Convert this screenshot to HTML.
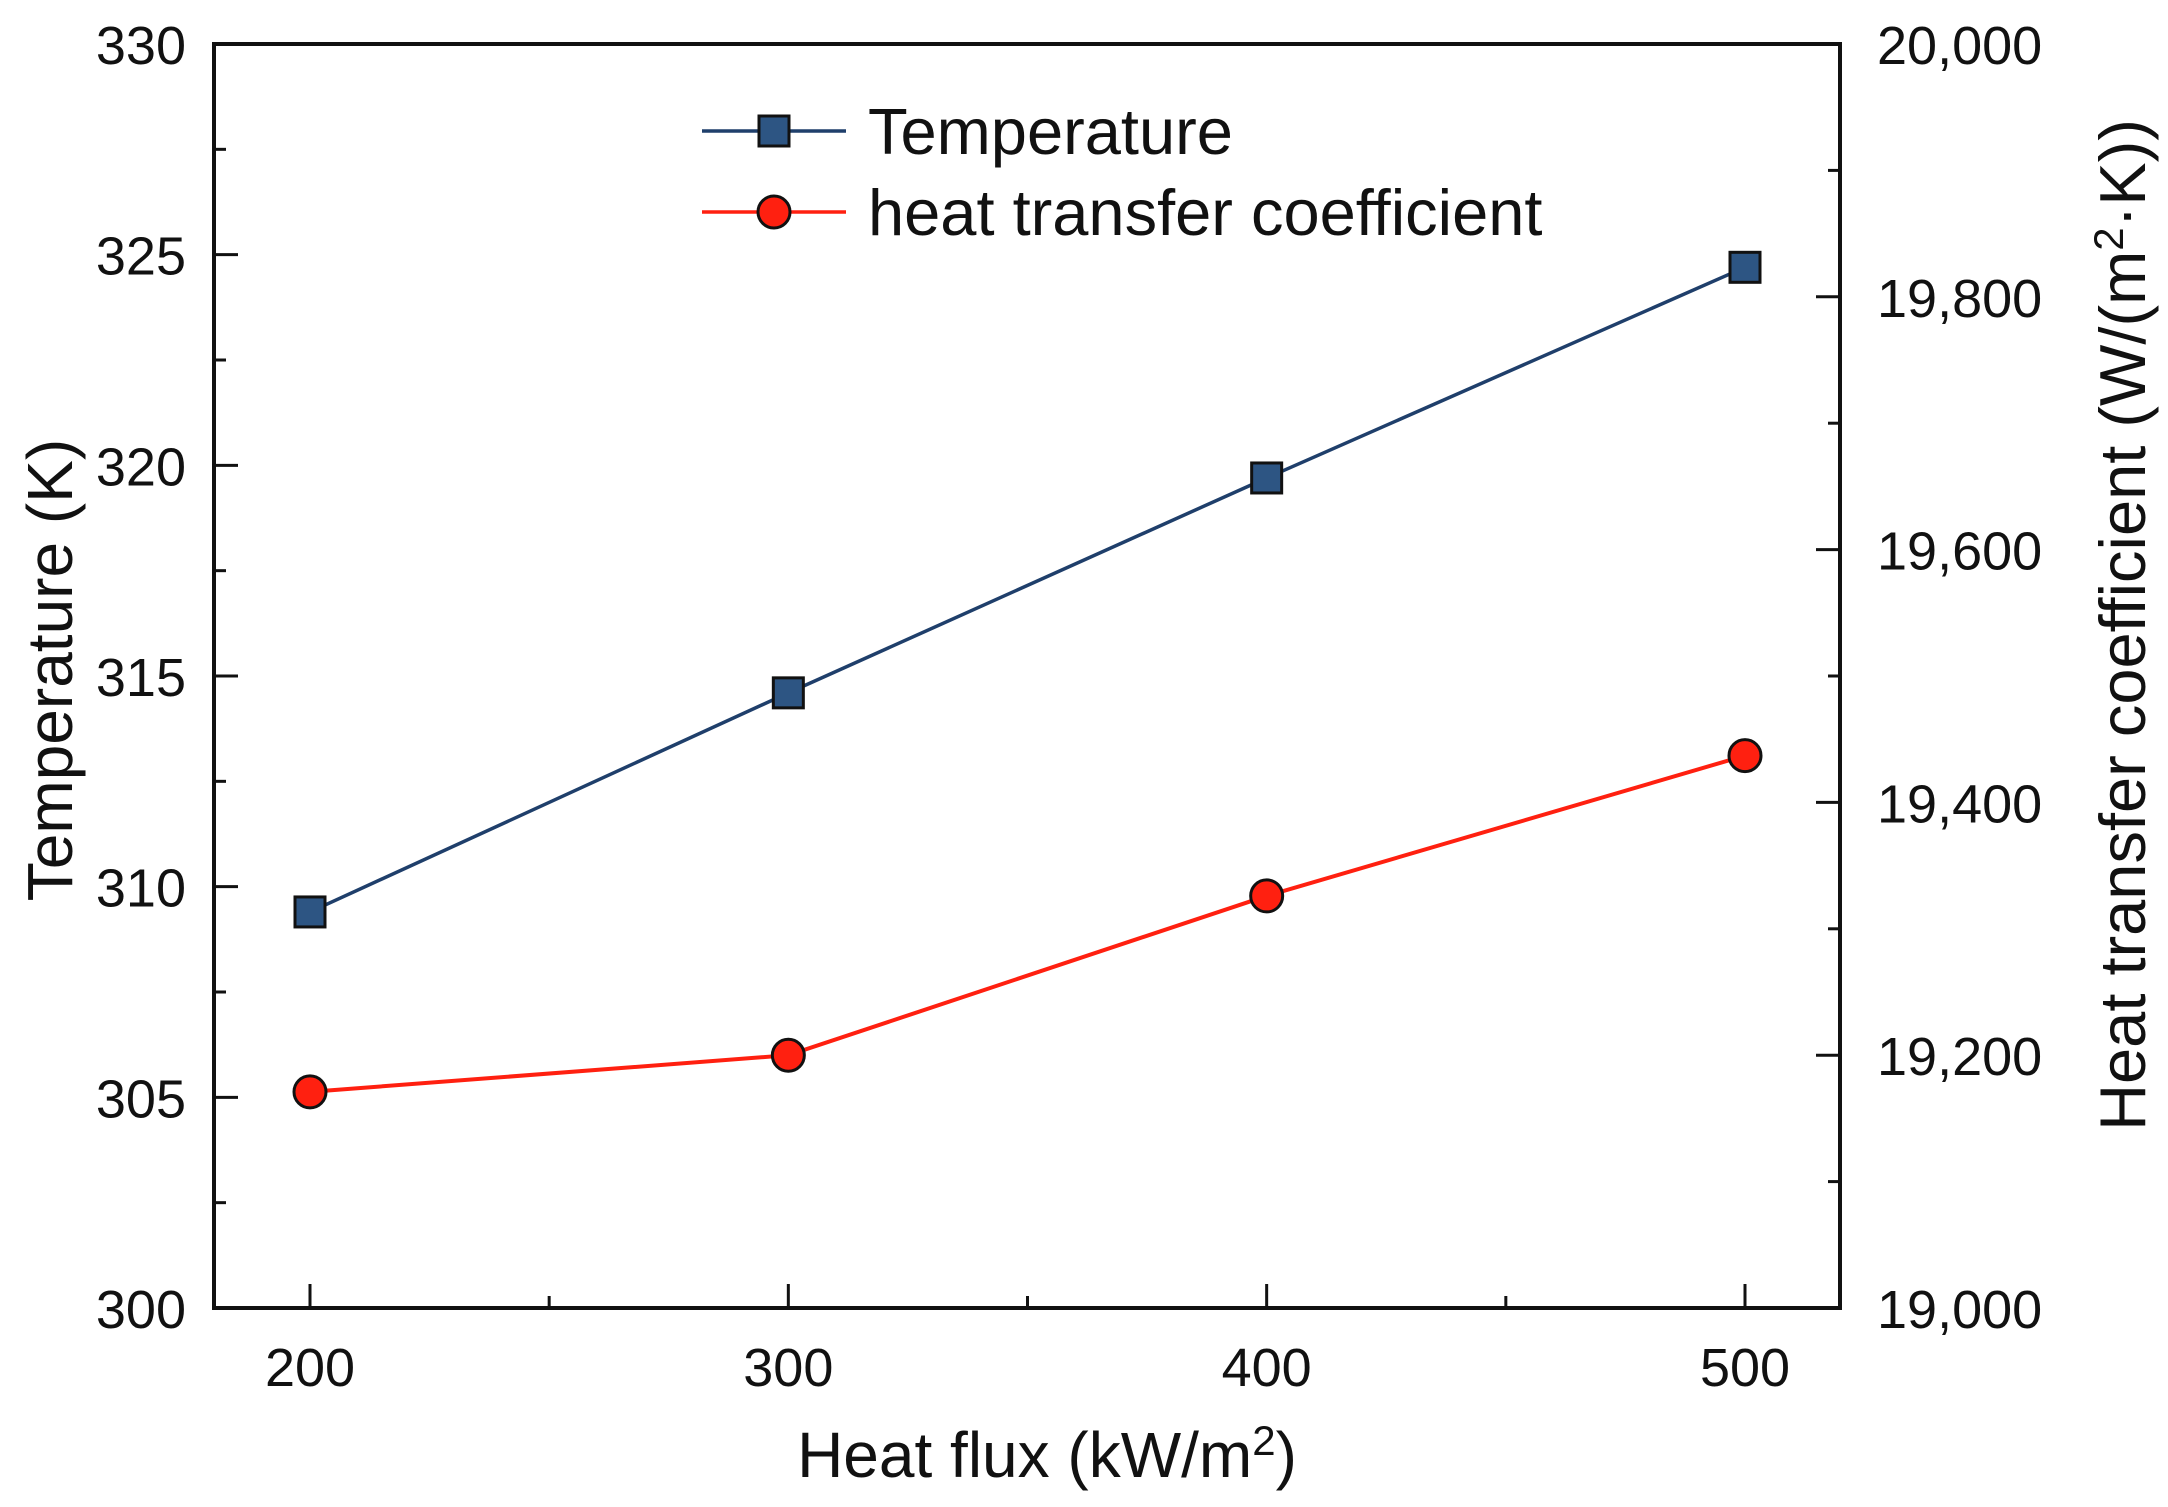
<!DOCTYPE html>
<html><head><meta charset="utf-8"><style>
body{margin:0;background:#fff}
text{font-family:"Liberation Sans",Arial,sans-serif;fill:#111}
</style></head><body>
<svg id="chart" width="2168" height="1502" xmlns="http://www.w3.org/2000/svg">
<g id="axes"></g>
<g id="series"></g>
<g>
  <line x1="702" y1="131" x2="846" y2="131" stroke="#1f3f6b" stroke-width="3.5"/>
  <rect x="759" y="116" width="30" height="30" fill="#2d5583" stroke="#111" stroke-width="3"/>
  <text x="868" y="154" font-size="65">Temperature</text>
  <line x1="702" y1="212" x2="846" y2="212" stroke="#ff2010" stroke-width="3.5"/>
  <circle cx="774" cy="212" r="16" fill="#ff2010" stroke="#111" stroke-width="3"/>
  <text x="868" y="235" font-size="65">heat transfer coefficient</text>
</g>
<text x="1047" y="1477" font-size="64" text-anchor="middle">Heat flux (kW/m<tspan dy="-22" font-size="42">2</tspan><tspan dy="22">)</tspan></text>
<text transform="translate(72,670) rotate(-90)" font-size="64" text-anchor="middle">Temperature (K)</text>
<text transform="translate(2145,625) rotate(-90)" font-size="65" text-anchor="middle">Heat transfer coefficient (W/(m<tspan dy="-22" font-size="42">2</tspan><tspan dy="22">·K))</tspan></text>
</svg>
<script>
const categories=[200,300,400,500];
const temperature=[309.4,314.6,319.7,324.7];
const htc=[19171,19200,19326,19437];
const xTicks=[200,300,400,500];
const leftTicks=[300,305,310,315,320,325,330];
const rightTicks=[19000,19200,19400,19600,19800,20000];
const rightTickLabels=["19,000","19,200","19,400","19,600","19,800","20,000"];
const L=214,R=1840,T=44,B=1308;
const NS="http://www.w3.org/2000/svg";
const x=v=>310+(v-200)*(1745-310)/300;
const yL=v=>B-(v-300)*(B-T)/30;
const yR=v=>B-(v-19000)*(B-T)/1000;
function mk(tag,attrs,parent){const e=document.createElementNS(NS,tag);for(const k in attrs)e.setAttribute(k,attrs[k]);parent.appendChild(e);return e;}
const ax=document.getElementById('axes'),se=document.getElementById('series');
const frame=mk('rect',{x:L,y:T,width:R-L,height:B-T,fill:'none',stroke:'#111','stroke-width':4},ax);


for(let v=200;v<=500;v+=50){const major=v%100===0;mk('line',{x1:x(v),y1:B,x2:x(v),y2:B-(major?24:12),stroke:'#111','stroke-width':3},ax);}
xTicks.forEach(v=>{const t=mk('text',{x:x(v),y:B+78,'font-size':54,'text-anchor':'middle'},ax);t.textContent=v;

});
for(let v=300;v<=330;v+=2.5){const major=v%5===0;mk('line',{x1:L,y1:yL(v),x2:L+(major?24:12),y2:yL(v),stroke:'#111','stroke-width':3},ax);}
leftTicks.forEach(v=>{const t=mk('text',{x:186,y:yL(v)+20,'font-size':54,'text-anchor':'end'},ax);t.textContent=v;

});
for(let v=19000;v<=20000;v+=100){const major=v%200===0;mk('line',{x1:R,y1:yR(v),x2:R-(major?24:12),y2:yR(v),stroke:'#111','stroke-width':3},ax);}
rightTicks.forEach((v,i)=>{const t=mk('text',{x:1877,y:yR(v)+20,'font-size':54},ax);t.textContent=rightTickLabels[i];

});
const tl=mk('polyline',{points:categories.map((c,i)=>x(c)+','+yL(temperature[i])).join(' '),fill:'none',stroke:'#1f3f6b','stroke-width':3.5},se);


const hl=mk('polyline',{points:categories.map((c,i)=>x(c)+','+yR(htc[i])).join(' '),fill:'none',stroke:'#ff2010','stroke-width':4},se);


categories.forEach((c,i)=>{
 const r=mk('rect',{x:x(c)-15,y:yL(temperature[i])-15,width:30,height:30,fill:'#2d5583',stroke:'#111','stroke-width':3},se);
 
 
 const ci=mk('circle',{cx:x(c),cy:yR(htc[i]),r:16,fill:'#ff2010',stroke:'#111','stroke-width':3},se);
 
 
});
</script>
</body></html>
